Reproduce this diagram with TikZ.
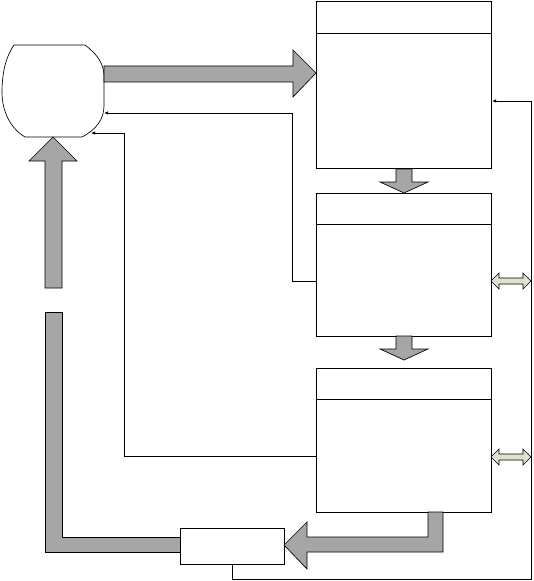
\documentclass[tikz,border=0pt]{standalone}
\usepackage{tikz}
\usetikzlibrary{arrows.meta,calc}
\definecolor{fatgray}{HTML}{A6A6A6}
\definecolor{palegreen}{HTML}{DDE3CF}
\tikzset{
  stagebox/.style = {draw,line width=0.6pt,minimum width=131.25pt,inner sep=0pt},
  fatarr/.style   = {fill=fatgray,draw=black,line width=0.5pt,line join=miter},
  dblarr/.style   = {fill=palegreen,draw=black,line width=0.5pt},
  tiparr/.style   = {-{Latex[length=3pt,width=2.6pt]},line width=0.6pt}
}
\begin{document}
\begin{tikzpicture}[x=0.75pt,y=-0.75pt]
  \useasboundingbox (0,0) rectangle (533,581);
  % blocks
  \node[minimum width=76.5pt,minimum height=69pt,inner sep=0pt] (store) at (53,91) {};
  \draw[line width=0.5pt] (14,45) -- (85,45) .. controls (97,54) and (104,64) .. (104,76)
        -- (104,106) .. controls (104,119) and (96,130) .. (82,137) -- (25,137)
        .. controls (10,128) and (2,111) .. (2,92) .. controls (2,70) and (7,55) .. cycle;
  \node[stagebox,minimum height=125.25pt] (boxA) at (403.5,85) {};
  \node[stagebox,minimum height=107.25pt] (boxB) at (403.5,264.5) {};
  \node[stagebox,minimum height=108pt]    (boxC) at (403.5,440) {};
  \node[draw,line width=0.6pt,minimum width=78pt,minimum height=27pt,inner sep=0pt]
        (unit) at (232,546) {};
  \foreach \b in {boxA,boxB,boxC}
    \draw[line width=0.6pt] ($(\b.north west)+(0,32)$) -- ($(\b.north east)+(0,32)$);

  % fat arrows
  \draw[fatarr] (104,66) -- (293,66) -- (293,50) -- (316,73) -- (293,97)
                -- (293,82) -- (104,82) -- cycle;
  \foreach \t in {169,336}
    \draw[fatarr] (396,\t) -- (412,\t) -- (412,\t+13) -- (428,\t+13) -- (404,\t+24)
                  -- (380,\t+13) -- (396,\t+13) -- cycle;
  \draw[fatarr] (428,512) -- (443,512) -- (443,552) -- (307,552) -- (307,569)
                -- (284,545) -- (307,522) -- (307,537) -- (428,537) -- cycle;
  \draw[fatarr] (180,537) -- (62,537) -- (62,312) -- (45,312) -- (45,552)
                -- (180,552) -- cycle;
  \draw[fatarr] (45,288) -- (45,161) -- (29,161) -- (53,137) -- (77,161)
                -- (62,161) -- (62,288) -- cycle;

  % double arrows
  \foreach \y in {281,457}
    \draw[dblarr] (491,\y) -- (499,\y-8) -- (499,\y-3) -- (523,\y-3) -- (523,\y-8)
                  -- (531,\y) -- (523,\y+8) -- (523,\y+3) -- (499,\y+3)
                  -- (499,\y+8) -- cycle;

  % thin connectors
  \coordinate (rr)  at (531,579);
  \coordinate (inA) at (492,101);
  \coordinate (k1)  at (292,113);
  \coordinate (in1) at (104,113);
  \coordinate (k2)  at (124,133);
  \coordinate (in2) at (91,133);
  \draw[tiparr] (unit.south) |- (rr) |- (inA);
  \draw[tiparr] ($(boxB.west)+(0,16.5)$) -| (k1) -- (in1);
  \draw[tiparr] ($(boxC.west)+(0,16)$) -| (k2) -- (in2);
\end{tikzpicture}
\end{document}
